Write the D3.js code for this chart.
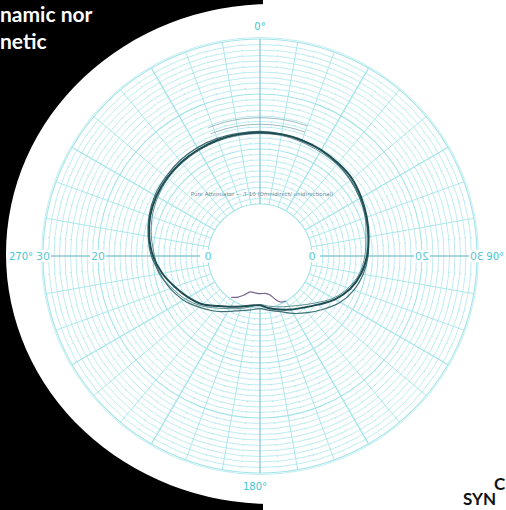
<!DOCTYPE html>
<html>
<head>
<meta charset="utf-8">
<script src="https://cdn.jsdelivr.net/npm/d3@7"></script>
<style>
body { margin: 0; background: #fff; }
svg { display: block; }
</style>
</head>
<body>
<div id="main"></div>
<script>
// angles in degrees (0 = top, clockwise), levels in dB on the chart scale
var angles = [0, 10, 20, 30, 40, 50, 60, 70, 80, 90, 100, 110, 120, 130, 140, 150, 160, 170,
              180, 190, 200, 210, 220, 230, 240, 250, 260, 270, 280, 290, 300, 310, 320, 330, 340, 350];
var trace_main = [13.0, 13.0, 12.9, 12.8, 12.6, 12.4, 11.8, 11.2, 10.6, 10.0, 9.2, 8.0, 6.3, 4.3, 2.8, 1.8, 0.9, 0.2,
                  -0.5, -0.3, 0.3, 1.2, 2.4, 4.2, 5.6, 7.0, 8.6, 10.0, 11.0, 11.8, 12.3, 12.6, 12.8, 12.9, 13.0, 13.0];
var trace_b = [13.2, 13.1, 13.0, 12.7, 12.4, 12.0, 11.5, 11.0, 10.5, 10.2, 9.6, 8.7, 7.4, 5.6, 4.0, 2.6, 1.3, 0.6,
               0.1, 0.5, 1.1, 2.2, 3.6, 5.0, 6.6, 7.9, 9.0, 10.3, 11.2, 12.0, 12.6, 12.9, 13.2, 13.3, 13.3, 13.2];
var trace_c = [12.8, 12.8, 12.6, 12.4, 12.3, 12.1, 11.6, 10.9, 10.1, 9.6, 8.9, 7.6, 5.9, 3.8, 2.2, 1.1, 0.4, -0.2,
               -0.6, -0.1, 0.7, 1.6, 2.9, 4.6, 6.2, 7.6, 9.2, 9.7, 10.6, 11.4, 12.0, 12.4, 12.6, 12.7, 12.8, 12.8];
var purple_angles = [150, 156, 160, 166, 172, 180, 188, 195, 202, 208, 215];
var purple_vals = [0.0, -0.3, -1.0, -2.2, -2.6, -2.6, -2.7, -2.7, -1.8, -1.0, -0.3];
var arc_angles = [-22, -15, -8, 0, 8, 15, 20];
var arc_outer = [15.7, 15.7, 15.7, 15.7, 15.7, 15.7, 15.7];
var arc_inner = [14.5, 14.5, 14.5, 14.5, 14.5, 14.5, 14.5];
var ring_values = d3.range(0, 31, 1);
var spoke_angles = d3.range(0, 360, 10);
var level_labels = [0, 20, 30];
var degree_labels = [{a: 0, t: "0°"}, {a: 90, t: "90°"}, {a: 180, t: "180°"}, {a: 270, t: "270°"}];
var title_text = "Pure Attenuator — 3-10 (Omnidirect/ unidirectional)";

var width = 506, height = 510;
var cx = 260, cy = 256;
var grid_col = "#a4e4e9";

var svg = d3.select("#main").append("svg")
    .attr("width", width)
    .attr("height", height);

// page background: black sheet with the white disc on it
svg.append("rect").attr("x", 0).attr("y", 0).attr("width", 263).attr("height", height).attr("fill", "#000");
svg.append("ellipse").attr("cx", 272).attr("cy", 254).attr("rx", 266).attr("ry", 250).attr("fill", "#fff");

var bold_font = "bold 21px Lato, 'Open Sans', sans-serif";
svg.append("text").attr("x", 0).attr("y", 22)
    .attr("fill", "#fff").style("font", bold_font)
    .text("namic nor");
svg.append("text").attr("x", 0).attr("y", 49)
    .attr("fill", "#fff").style("font", bold_font)
    .text("netic");
svg.append("text").attr("x", 494).attr("y", 490)
    .attr("fill", "#111").style("font", "bold 17px Lato, 'Open Sans', sans-serif")
    .text("C");
svg.append("text").attr("x", 463).attr("y", 505)
    .attr("fill", "#111").style("font", "bold 17px Lato, 'Open Sans', sans-serif")
    .text("SYN");

var r = d3.scaleLinear().domain([0, 30]).range([52, 217]);
var g = svg.append("g").attr("transform", "translate(" + cx + "," + cy + ")");
var rad = function(a) { return a * Math.PI / 180; };

// rings
g.selectAll(".ring").data(ring_values).enter().append("circle")
    .attr("class", "ring")
    .attr("r", function(d) { return r(d); })
    .attr("fill", "none")
    .attr("stroke", grid_col)
    .attr("stroke-width", function(d) { return d % 10 == 0 ? 1.1 : 0.7; });
g.append("circle").attr("r", r(30) + 1.5).attr("fill", "none").attr("stroke", "#b2eaee").attr("stroke-width", 0.8);

// minor spokes (dotted)
g.selectAll(".minor").data(spoke_angles).enter().append("line")
    .attr("x1", function(d) { return r(0) * Math.sin(rad(d + 5)); })
    .attr("y1", function(d) { return -r(0) * Math.cos(rad(d + 5)); })
    .attr("x2", function(d) { return r(30) * Math.sin(rad(d + 5)); })
    .attr("y2", function(d) { return -r(30) * Math.cos(rad(d + 5)); })
    .attr("stroke", grid_col).attr("stroke-width", 1).attr("stroke-dasharray", "1,4.5");

// spokes
g.selectAll(".spoke").data(spoke_angles).enter().append("line")
    .attr("class", "spoke")
    .attr("x1", function(d) { return r(0) * Math.sin(rad(d)); })
    .attr("y1", function(d) { return -r(0) * Math.cos(rad(d)); })
    .attr("x2", function(d) { return r(30) * Math.sin(rad(d)); })
    .attr("y2", function(d) { return -r(30) * Math.cos(rad(d)); })
    .attr("stroke", function(d) { return d % 90 == 0 ? "#90c8d0" : grid_col; })
    .attr("stroke-width", function(d) { return d % 30 == 0 ? 1.3 : 0.9; });

// level labels on the horizontal axis, right side printed mirrored
level_labels.forEach(function(v) {
    [-1, 1].forEach(function(side) {
        var x = side * r(v);
        var lg = g.append("g").attr("transform", "translate(" + x + ",0)" + (side > 0 ? " scale(-1,1)" : ""));
        lg.append("rect").attr("x", -8).attr("y", -6).attr("width", 16).attr("height", 12).attr("fill", "#fff");
        lg.append("text").attr("text-anchor", "middle").attr("dy", "0.36em")
            .attr("fill", "#5cc9d2").style("font", "11px 'DejaVu Sans', sans-serif")
            .text(v);
    });
});

// degree labels
degree_labels.forEach(function(d) {
    var rr = r(30) + (d.a % 180 == 0 ? 13 : 22);
    var t = g.append("text")
        .attr("y", -rr * Math.cos(rad(d.a)))
        .attr("dy", "0.36em")
        .attr("fill", "#3fc6d2").style("font", "10px 'DejaVu Sans', sans-serif")
        .text(d.t);
    if (d.a == 90) {
        t.attr("x", 504 - cx).attr("text-anchor", "end");
    } else {
        t.attr("x", rr * Math.sin(rad(d.a)) + (d.a == 180 ? -5 : 0)).attr("text-anchor", "middle");
    }
});

g.append("text").attr("x", 2).attr("y", -60)
    .attr("text-anchor", "middle")
    .attr("fill", "#6b8a96").style("font", "5.5px 'DejaVu Sans', sans-serif")
    .text(title_text);

var line = d3.lineRadial()
    .angle(function(d) { return rad(d[0]); })
    .radius(function(d) { return r(d[1]); })
    .curve(d3.curveCatmullRomClosed);
var open_line = d3.lineRadial()
    .angle(function(d) { return rad(d[0]); })
    .radius(function(d) { return r(d[1]); })
    .curve(d3.curveCatmullRom);

var pairs = function(a, v) { return a.map(function(x, i) { return [x, v[i]]; }); };

g.append("path").attr("d", open_line(pairs(arc_angles, arc_outer)))
    .attr("fill", "none").attr("stroke", "#5a8e96").attr("stroke-width", 1).attr("opacity", 0.6);
g.append("path").attr("d", open_line(pairs(arc_angles, arc_inner)))
    .attr("fill", "none").attr("stroke", "#5a8e96").attr("stroke-width", 1).attr("opacity", 0.6);

g.append("path").attr("d", line(pairs(angles, trace_c)))
    .attr("fill", "none").attr("stroke", "#5f8f92").attr("stroke-width", 1);
g.append("path").attr("d", line(pairs(angles, trace_b)))
    .attr("fill", "none").attr("stroke", "#3f7076").attr("stroke-width", 1.2);
g.append("path").attr("d", line(pairs(angles, trace_main)))
    .attr("fill", "none").attr("stroke", "#1f4b52").attr("stroke-width", 2);
g.append("path").attr("d", open_line(pairs(purple_angles, purple_vals)))
    .attr("fill", "none").attr("stroke", "#75638f").attr("stroke-width", 1.2);
</script>
</body>
</html>
